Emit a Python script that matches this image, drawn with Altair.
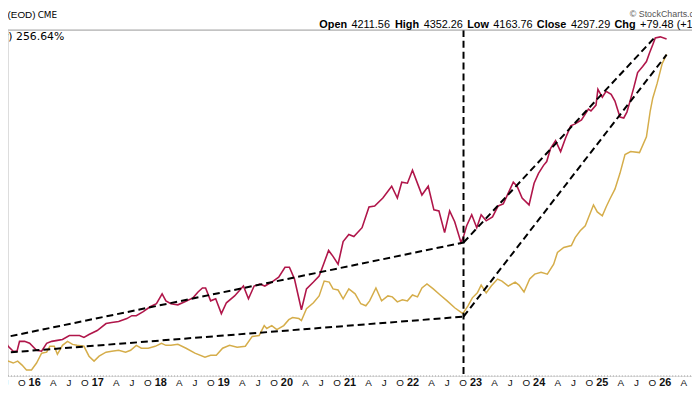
import altair as alt
import pandas as pd

# ---- data (decimal years, % performance) ----
red_year = [2015.45, 2015.51, 2015.58, 2015.66, 2015.72, 2015.76, 2015.84, 2015.92, 2016.03, 2016.11,
            2016.19, 2016.27, 2016.36, 2016.44, 2016.55, 2016.71, 2016.78, 2016.86, 2016.99, 2017.13,
            2017.22, 2017.33, 2017.46, 2017.54, 2017.61, 2017.72, 2017.83, 2017.93, 2018.02, 2018.08,
            2018.16, 2018.27, 2018.38, 2018.51, 2018.59, 2018.66, 2018.71, 2018.79, 2018.87, 2018.96,
            2019.04, 2019.17, 2019.24, 2019.31, 2019.39, 2019.48, 2019.57, 2019.65, 2019.76, 2019.87,
            2019.97, 2020.04, 2020.12, 2020.23, 2020.31, 2020.42, 2020.51, 2020.58, 2020.66, 2020.73,
            2020.81, 2020.89, 2020.98, 2021.06, 2021.19, 2021.30, 2021.39, 2021.52, 2021.66, 2021.75,
            2021.82, 2021.91, 2021.99, 2022.08, 2022.14, 2022.24, 2022.33, 2022.41, 2022.50, 2022.58,
            2022.66, 2022.76, 2022.80, 2022.85, 2022.93, 2023.01, 2023.08, 2023.16, 2023.26, 2023.35,
            2023.43, 2023.51, 2023.59, 2023.65, 2023.73, 2023.84, 2023.92, 2023.99, 2024.07, 2024.12,
            2024.18, 2024.26, 2024.34, 2024.42, 2024.50, 2024.57, 2024.67, 2024.78, 2024.82, 2024.90,
            2024.93, 2025.00, 2025.06, 2025.14, 2025.20, 2025.28, 2025.34, 2025.39, 2025.44, 2025.50,
            2025.56, 2025.64, 2025.70, 2025.75, 2025.80, 2025.84, 2025.92, 2026.02]
red_pct = [20.3, 21.2, 14.6, 10.5, 10.5, 18.7, 18.7, 17.1, 11.3, 10.5,
           17.1, 18.7, 19.5, 20.3, 23.6, 23.6, 22.0, 24.4, 27.7, 33.5,
           34.3, 35.1, 37.6, 40.0, 40.0, 43.3, 47.4, 49.9, 58.1, 52.3,
           49.9, 49.0, 51.5, 54.8, 59.7, 63.0, 63.0, 52.3, 54.0, 41.7,
           50.7, 56.4, 60.5, 64.6, 54.0, 64.6, 66.3, 64.6, 67.9, 72.0,
           80.2, 80.2, 70.4, 44.9, 62.2, 67.9, 72.8, 82.7, 94.1, 89.2,
           82.7, 101.5, 107.3, 105.6, 113.0, 130.2, 131.0, 137.6, 147.4, 137.6,
           150.7, 149.9, 160.6, 148.3, 140.1, 147.4, 127.8, 126.9, 108.9, 126.9,
           117.9, 100.7, 105.6, 114.6, 123.7, 113.0, 123.7, 118.7, 122.0, 131.0,
           132.7, 141.7, 150.7, 147.4, 137.6, 131.9, 149.9, 158.1, 164.7, 167.9,
           178.6, 185.2, 176.1, 187.6, 197.5, 199.1, 202.4, 211.4, 209.8, 214.7,
           227.8, 221.2, 226.2, 223.7, 218.0, 204.8, 204.0, 208.9, 218.0, 229.4,
           241.7, 246.7, 250.8, 258.1, 264.7, 270.4, 271.3, 269.6]

gold_year = [2015.45, 2015.50, 2015.58, 2015.66, 2015.73, 2015.80, 2015.87, 2015.95, 2016.03, 2016.11,
             2016.19, 2016.24, 2016.31, 2016.36, 2016.44, 2016.52, 2016.60, 2016.67, 2016.78, 2016.86,
             2016.94, 2017.02, 2017.13, 2017.22, 2017.33, 2017.44, 2017.52, 2017.61, 2017.69, 2017.80,
             2017.91, 2018.01, 2018.08, 2018.16, 2018.27, 2018.40, 2018.54, 2018.70, 2018.79, 2018.88,
             2018.98, 2019.09, 2019.21, 2019.34, 2019.45, 2019.56, 2019.64, 2019.68, 2019.76, 2019.84,
             2019.95, 2020.03, 2020.09, 2020.19, 2020.23, 2020.31, 2020.42, 2020.51, 2020.59, 2020.67,
             2020.73, 2020.81, 2020.89, 2020.98, 2021.08, 2021.17, 2021.25, 2021.31, 2021.41, 2021.50,
             2021.60, 2021.67, 2021.75, 2021.83, 2021.91, 2021.99, 2022.07, 2022.14, 2022.22, 2022.32,
             2022.43, 2022.54, 2022.66, 2022.79, 2022.87, 2022.94, 2023.02, 2023.08, 2023.16, 2023.24,
             2023.34, 2023.41, 2023.51, 2023.62, 2023.68, 2023.76, 2023.85, 2023.93, 2024.03, 2024.13,
             2024.23, 2024.29, 2024.39, 2024.51, 2024.57, 2024.65, 2024.73, 2024.78, 2024.86, 2024.92,
             2025.00, 2025.06, 2025.12, 2025.20, 2025.28, 2025.36, 2025.45, 2025.59, 2025.70, 2025.76,
             2025.80, 2025.87, 2025.95, 2026.02]
gold_pct = [4.8, -1.0, 2.3, 0.7, 2.3, -1.0, -5.1, -5.1, 0.7, 8.9,
            9.7, 14.6, 14.6, 8.0, 15.4, 18.7, 16.2, 15.4, 14.6, 6.4,
            2.3, 6.4, 9.7, 10.5, 11.3, 9.7, 11.3, 15.4, 13.0, 13.0,
            14.6, 17.1, 15.4, 15.4, 16.2, 13.0, 8.9, 5.6, 7.2, 7.2,
            13.0, 15.4, 13.8, 14.6, 22.8, 23.6, 31.8, 29.4, 31.8, 28.5,
            31.8, 36.7, 38.4, 37.6, 35.9, 45.8, 50.7, 56.4, 68.7, 67.9,
            62.2, 61.3, 54.0, 62.2, 58.1, 49.9, 48.2, 52.3, 63.0, 52.3,
            56.4, 55.6, 51.5, 53.1, 52.3, 57.2, 55.6, 63.0, 66.3, 62.2,
            57.2, 52.3, 46.6, 41.7, 48.2, 54.8, 58.9, 65.4, 58.9, 64.6,
            70.4, 68.7, 64.6, 67.9, 65.4, 59.7, 70.4, 74.5, 76.1, 74.5,
            82.7, 92.5, 96.6, 98.2, 104.8, 110.5, 114.6, 121.2, 131.9, 126.1,
            122.8, 130.2, 136.8, 145.0, 158.1, 173.7, 176.1, 175.3, 188.4, 209.8,
            220.4, 232.7, 249.1, 256.64]

# dashed trend lines (start/end pairs) and the Oct-2022 marker
trend_id = ["up_left", "up_left", "low_left", "low_left", "up_right", "up_right", "low_right", "low_right"]
trend_year = [2015.45, 2022.80, 2015.45, 2022.80, 2022.80, 2025.84, 2022.80, 2026.02]
trend_pct = [21.2, 100.7, 8.9, 39.2, 100.7, 271.3, 39.2, 256.5]
marker_year = [2022.80]

# quarterly x tick labels (Jul 2015 .. Apr 2026)
tick_labels = ["J", "O",
               "16", "A", "J", "O", "17", "A", "J", "O", "18", "A", "J", "O",
               "19", "A", "J", "O", "20", "A", "J", "O", "21", "A", "J", "O",
               "22", "A", "J", "O", "23", "A", "J", "O", "24", "A", "J", "O",
               "25", "A", "J", "O", "26", "A"]
tick_months = ["2015-07-01", "2015-10-01",
               "2016-01-01", "2016-04-01", "2016-07-01", "2016-10-01",
               "2017-01-01", "2017-04-01", "2017-07-01", "2017-10-01",
               "2018-01-01", "2018-04-01", "2018-07-01", "2018-10-01",
               "2019-01-01", "2019-04-01", "2019-07-01", "2019-10-01",
               "2020-01-01", "2020-04-01", "2020-07-01", "2020-10-01",
               "2021-01-01", "2021-04-01", "2021-07-01", "2021-10-01",
               "2022-01-01", "2022-04-01", "2022-07-01", "2022-10-01",
               "2023-01-01", "2023-04-01", "2023-07-01", "2023-10-01",
               "2024-01-01", "2024-04-01", "2024-07-01", "2024-10-01",
               "2025-01-01", "2025-04-01", "2025-07-01", "2025-10-01",
               "2026-01-01", "2026-04-01"]

X_START, X_END = 2015.577, 2026.423
Y_DOMAIN = [-10, 277]


def to_ts(y):
    yr = int(y // 1)
    start = pd.Timestamp(year=yr, month=1, day=1)
    end = pd.Timestamp(year=yr + 1, month=1, day=1)
    return start + (end - start) * (y - yr)


def iso(y):
    return to_ts(y).strftime("%Y-%m-%dT%H:%M:%S")


def dt(y):
    t = to_ts(y)
    return alt.DateTime(year=t.year, month=t.month, date=t.day, hours=t.hour, minutes=t.minute)


red_df = pd.DataFrame({"date": [iso(v) for v in red_year], "pct": red_pct})
gold_df = pd.DataFrame({"date": [iso(v) for v in gold_year], "pct": gold_pct})
trend_df = pd.DataFrame({"id": trend_id, "date": [iso(v) for v in trend_year], "pct": trend_pct})
marker_df = pd.DataFrame({"date": [iso(v) for v in marker_year]})
tick_df = pd.DataFrame({"date": [d + "T00:00:00" for d in tick_months], "label": tick_labels})
tick_df["is_year"] = tick_df["label"].str.len() == 2
year_ticks = tick_df[tick_df["is_year"]]
month_ticks = tick_df[~tick_df["is_year"]]

FONT = "Arial"
W, H = 692, 350

xscale = alt.Scale(domain=[dt(X_START), dt(X_END)])
yscale = alt.Scale(domain=Y_DOMAIN)

X = alt.X("date:T", scale=xscale, axis=None, title=None)
Y = alt.Y("pct:Q", scale=yscale, axis=None, title=None)

gold = alt.Chart(gold_df).mark_line(color="#d5ad4a", strokeWidth=1.5, clip=True).encode(x=X, y=Y)
red = alt.Chart(red_df).mark_line(color="#b0164a", strokeWidth=1.6, clip=True).encode(x=X, y=Y)
trends = alt.Chart(trend_df).mark_line(color="black", strokeWidth=2, strokeDash=[7, 4], clip=True).encode(
    x=X, y=Y, detail="id:N")
vline = alt.Chart(marker_df).mark_rule(color="black", strokeWidth=2, strokeDash=[7, 4]).encode(x=X)

# x-axis: dotted baseline + quarterly labels placed through the time scale
one = pd.DataFrame({"k": [0]})
baseline = alt.Chart(one).mark_rule(color="#9a9a9a", strokeWidth=1, strokeDash=[1, 2]).encode(
    x=alt.value(0), x2=alt.value(W), y=alt.value(H))
year_lab = alt.Chart(year_ticks).mark_text(font=FONT, fontSize=11, fontWeight="bold", color="#111",
                                           baseline="middle", align="center").encode(
    x=X, y=alt.value(H + 7), text="label:N")
month_lab = alt.Chart(month_ticks).mark_text(font=FONT, fontSize=10, color="#111", dx=3,
                                             baseline="middle", align="center").encode(
    x=X, y=alt.value(H + 7), text="label:N")

topline = alt.Chart(one).mark_rule(color="#a8a8a8", strokeWidth=1).encode(
    x=alt.value(0), x2=alt.value(W), y=alt.value(0))


def label(text, x, y, size=11, weight="normal", align="left", baseline="middle", color="#000", font=FONT):
    return alt.Chart(one).mark_text(text=text, align=align, baseline=baseline, fontSize=size,
                                    fontWeight=weight, font=font, color=color).encode(
        x=alt.value(x), y=alt.value(y))


HY = -5.5
texts = [
    label("t (EOD)", -6, -20, size=10, baseline="top"),
    label("CME", 30, -19, size=9, baseline="top", font="DejaVu Sans"),
    label("\u00a9 StockCharts.com", 629, -20, size=9, baseline="top", color="#555"),
    label("Open", 315, HY, weight="bold"),
    label("4211.56", 347.5, HY),
    label("High", 391.5, HY, weight="bold"),
    label("4352.26", 420.5, HY),
    label("Low", 464.5, HY, weight="bold"),
    label("4163.76", 491, HY),
    label("Close", 535, HY, weight="bold"),
    label("4297.29", 569.5, HY),
    label("Chg", 613.5, HY, weight="bold"),
    label("+79.48 (+1.88%)", 639.5, HY),
    label("y) 256.64%", 57, 7, size=11, align="right", font="DejaVu Sans"),
]

chart = alt.layer(gold, red, trends, vline, baseline, year_lab, month_lab, topline, *texts).properties(
    width=W, height=H,
    padding={"top": 20, "bottom": 16, "left": 0, "right": 0},
    autosize=alt.AutoSizeParams(type="none"),
).configure_view(stroke=None).configure(background="white")

chart.save("out.html", embed_options={"renderer": "svg", "actions": False})
